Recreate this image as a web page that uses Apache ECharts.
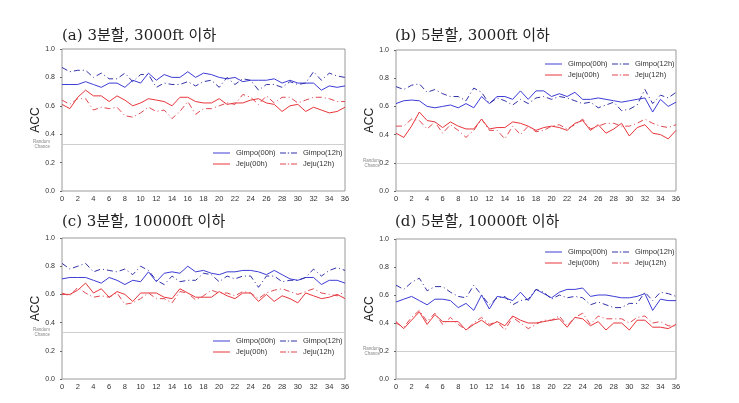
<!DOCTYPE html>
<html>
<head>
<meta charset="utf-8">
<script src="https://cdn.jsdelivr.net/npm/echarts@6/dist/echarts.min.js"></script>
<style>html,body{margin:0;padding:0;background:#fff}#c{width:739px;height:403px}</style>
</head>
<body>
<div id="c"></div>
<script>
// ---- data ----
const hours = [0,1,2,3,4,5,6,7,8,9,10,11,12,13,14,15,16,17,18,19,20,21,22,23,24,25,26,27,28,29,30,31,32,33,34,35,36];
const xTicks = [0,2,4,6,8,10,12,14,16,18,20,22,24,26,28,30,32,34,36];
const yTicks = [0.0,0.2,0.4,0.6,0.8,1.0];
const seriesNames = ['Gimpo(00h)','Gimpo(12h)','Jeju(00h)','Jeju(12h)'];
const panelTitles = ['(a) 3분할, 3000ft 이하','(b) 5분할, 3000ft 이하','(c) 3분할, 10000ft 이하','(d) 5분할, 10000ft 이하'];
const randomChance = [0.333, 0.2, 0.333, 0.2];

const a_g00 = [.75,.75,.75,.77,.75,.73,.76,.76,.73,.78, .76,.83,.78,.82,.80,.80,.84,.80,.83,.82, .80,.79,.80,.77,.78,.78,.78,.79,.76,.78, .76,.76,.76,.71,.74,.73,.74];
const a_g12 = [.87,.84,.85,.85,.80,.83,.79,.79,.83,.77, .82,.82,.73,.76,.75,.75,.77,.74,.77,.78, .73,.80,.75,.79,.78,.71,.75,.75,.73,.77, .75,.76,.84,.78,.83,.81,.80];
const a_j00 = [.61,.58,.66,.71,.67,.67,.63,.67,.64,.60, .62,.65,.64,.63,.60,.66,.66,.63,.62,.62, .65,.61,.62,.62,.64,.65,.62,.61,.56,.60, .61,.56,.59,.57,.55,.56,.59];
const a_j12 = [.64,.61,.65,.65,.57,.59,.58,.59,.53,.52, .55,.59,.56,.57,.51,.56,.63,.54,.58,.58, .60,.62,.61,.68,.66,.61,.67,.62,.66,.66, .62,.64,.66,.66,.65,.63,.63];

const b_g00 = [.62,.64,.645,.64,.60,.59,.60,.61,.59,.62, .59,.67,.62,.67,.67,.65,.71,.65,.71,.71, .67,.69,.67,.70,.65,.65,.66,.65,.64,.63, .64,.65,.66,.56,.65,.60,.63];
const b_g12 = [.74,.72,.75,.76,.70,.72,.69,.67,.67,.64, .73,.70,.62,.66,.64,.61,.65,.62,.66,.67, .65,.67,.66,.64,.62,.63,.59,.61,.63,.57, .58,.61,.72,.62,.68,.66,.70];
const b_j00 = [.41,.38,.46,.56,.50,.49,.45,.49,.46,.44, .44,.51,.44,.45,.45,.49,.48,.46,.43,.45, .46,.45,.43,.48,.50,.43,.47,.41,.44,.48, .39,.45,.47,.41,.40,.37,.43];
const b_j12 = [.46,.46,.51,.50,.44,.49,.41,.47,.43,.38, .43,.51,.43,.43,.37,.46,.40,.46,.42,.43, .46,.47,.44,.47,.51,.44,.46,.48,.48,.46, .46,.48,.51,.48,.46,.45,.47];

const c_g00 = [.71,.72,.72,.72,.70,.68,.72,.70,.67,.70, .69,.76,.69,.75,.76,.75,.80,.76,.77,.75, .74,.76,.76,.77,.77,.76,.74,.77,.74,.71, .70,.72,.72,.67,.70,.70,.68];
const c_g12 = [.82,.78,.80,.82,.76,.78,.77,.76,.78,.74, .80,.77,.70,.67,.73,.69,.70,.70,.75,.74, .69,.73,.71,.73,.73,.65,.73,.73,.69,.70, .70,.72,.78,.73,.77,.79,.77];
const c_j00 = [.60,.60,.63,.68,.61,.64,.58,.62,.60,.55, .61,.61,.61,.58,.57,.64,.61,.58,.58,.58, .62,.59,.57,.61,.61,.55,.60,.55,.59,.57, .54,.61,.59,.57,.58,.60,.57];
const c_j12 = [.61,.59,.65,.61,.58,.59,.58,.61,.53,.54, .57,.61,.57,.57,.54,.62,.61,.56,.59,.63, .61,.61,.59,.62,.61,.57,.61,.63,.64,.62, .60,.62,.64,.61,.60,.59,.62];

const d_g00 = [.55,.57,.59,.56,.53,.57,.57,.56,.51,.54, .49,.60,.50,.59,.58,.56,.62,.56,.64,.61, .58,.62,.64,.64,.65,.59,.60,.60,.59,.58, .58,.59,.61,.49,.57,.56,.56];
const d_g12 = [.67,.64,.69,.72,.63,.66,.66,.62,.59,.58, .67,.60,.53,.58,.59,.53,.56,.57,.64,.62, .57,.60,.58,.59,.58,.53,.55,.53,.51,.51, .54,.54,.62,.56,.62,.61,.59];
const d_j00 = [.41,.36,.42,.48,.39,.46,.41,.41,.41,.35, .39,.42,.38,.41,.38,.45,.42,.40,.40,.41, .42,.43,.37,.44,.43,.38,.41,.35,.40,.40, .35,.42,.42,.37,.37,.36,.39];
const d_j12 = [.40,.37,.44,.49,.41,.47,.39,.44,.39,.35, .40,.44,.39,.41,.35,.44,.40,.36,.39,.42, .42,.45,.38,.44,.47,.39,.45,.43,.43,.43, .40,.44,.45,.40,.41,.38,.38];

const panelData = [[a_g00,a_g12,a_j00,a_j12],[b_g00,b_g12,b_j00,b_j12],[c_g00,c_g12,c_j00,c_j12],[d_g00,d_g12,d_j00,d_j12]];

// ---- layout / style ----
const grids = [
  {left:62, top:49, width:283, height:142},
  {left:396, top:50, width:280, height:141},
  {left:62, top:238, width:283, height:141},
  {left:396, top:239, width:280, height:140}
];
const titlePos = [{left:57,top:24},{left:390,top:24},{left:57,top:210},{left:390,top:210}];
const legendPos = [
  [{left:213,top:149},{left:280,top:149}],
  [{left:545,top:60},{left:612,top:60}],
  [{left:213,top:337},{left:280,top:337}],
  [{left:545,top:248},{left:612,top:248}]
];
const rcDist = [12, 16, 12, 16];
const solidIcon = 'path://M0,0H17V1H0Z';
const dashDotIcon = 'path://M0,0H6V1H0Z M7.8,0H9.2V1H7.8Z M11,0H17V1H11Z';
const styles = [
  {color:'#3c3cd6', type:'solid', icon:solidIcon},
  {color:'#3232a8', type:[6,3,1,3], icon:dashDotIcon},
  {color:'#e8353a', type:'solid', icon:solidIcon},
  {color:'#e04850', type:[6,3,1,3], icon:dashDotIcon}
];
const fontLatin = "'Liberation Sans', Arial, sans-serif";

const option = {
  backgroundColor:'#fff',
  animation:false,
  title:[], grid:[], xAxis:[], yAxis:[], legend:[], series:[]
};

for (let p=0;p<4;p++){
  option.title.push({text:panelTitles[p], left:titlePos[p].left, top:titlePos[p].top,
    textStyle:{fontFamily:"'DejaVu Serif','Noto Sans CJK KR',serif", fontSize:15, fontWeight:'normal', color:'#222'}});
  option.grid.push(Object.assign({show:true, borderColor:'#9a9a9a', borderWidth:1, backgroundColor:'#fff'}, grids[p]));
  option.xAxis.push({type:'value', gridIndex:p, min:xTicks[0], max:xTicks[xTicks.length-1], interval:xTicks[1]-xTicks[0],
    axisLine:{show:false}, axisTick:{show:false}, splitLine:{show:false},
    axisLabel:{fontSize:7.5, color:'#333', margin:4, fontFamily:fontLatin}});
  option.yAxis.push({type:'value', gridIndex:p, min:yTicks[0], max:yTicks[yTicks.length-1], interval:yTicks[1]-yTicks[0],
    name:'ACC', nameLocation:'middle', nameGap:19, nameTextStyle:{fontSize:12, color:'#222', fontFamily:fontLatin},
    axisLine:{show:false}, axisTick:{show:true, length:2, lineStyle:{color:'#666'}}, splitLine:{show:false},
    axisLabel:{fontSize:7, color:'#333', margin:7, fontFamily:fontLatin, formatter:v=>v.toFixed(1)}});
  for (let col=0; col<2; col++){
    option.legend.push({orient:'vertical', left:legendPos[p][col].left, top:legendPos[p][col].top,
      itemWidth:17, itemHeight:1.4, itemGap:3, padding:0,
      data:[col, col+2].map(k=>({name:seriesNames[k], icon:styles[k].icon})),
      textStyle:{fontSize:7.5, color:'#333', fontFamily:fontLatin, padding:[0,0,0,1]}});
  }
  for (let s=0;s<4;s++){
    const ser = {name:seriesNames[s], type:'line', xAxisIndex:p, yAxisIndex:p,
      symbol:'none', showSymbol:false,
      data:hours.map((h,i)=>[h, panelData[p][s][i]]),
      lineStyle:{color:styles[s].color, width:1, type:styles[s].type},
      itemStyle:{color:styles[s].color}, z:3};
    if (s===0){
      ser.markLine = {silent:true, symbol:'none', z:1,
        lineStyle:{color:'#cfcfcf', width:1, type:'solid'},
        label:{show:true, position:'start', distance:rcDist[p], formatter:'Random\nChance', fontSize:4.5, lineHeight:5, color:'#888', fontFamily:fontLatin},
        data:[{yAxis:randomChance[p]}]};
    }
    option.series.push(ser);
  }
}

const chart = echarts.init(document.getElementById('c'), null, {renderer:'canvas'});
chart.setOption(option);
</script>
</body>
</html>
